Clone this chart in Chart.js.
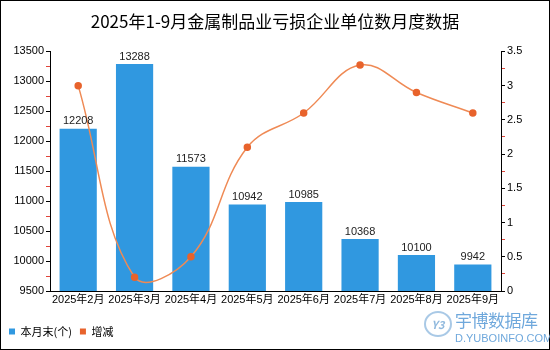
<!DOCTYPE html>
<html>
<head>
<meta charset="utf-8">
<script src="https://cdn.jsdelivr.net/npm/chart.js@4"></script>
<style>
html,body{margin:0;padding:0;background:#fff;}
#wrap{position:relative;width:550px;height:350px;box-sizing:border-box;border:1px solid #000;}
#c{position:absolute;left:0;top:0;}
#mark{position:absolute;left:423px;top:306px;width:124px;height:40px;font-family:"Noto Sans CJK SC","Noto Sans",sans-serif;color:#6fa8dc;}
#mark .logo{position:absolute;left:0;top:4px;width:28px;height:26px;border:2px solid #a9c9e6;border-radius:50%;box-sizing:border-box;font-size:11px;font-style:italic;font-weight:bold;text-align:center;line-height:22px;color:#8fb8dd;}
#mark .cn{position:absolute;left:31px;top:4px;font-size:17px;line-height:18px;letter-spacing:-0.5px;}
#mark .en{position:absolute;left:31px;top:25px;font-size:11px;font-family:"Liberation Sans",sans-serif;line-height:12px;}
</style>
</head>
<body>
<div id="wrap">
<canvas id="c" width="548" height="348"></canvas>
<div id="mark"><div class="logo">Y3</div><div class="cn">宇博数据库</div><div class="en">D.YUBOINFO.COM</div></div>
</div>
<script>
const months = ["2025年2月","2025年3月","2025年4月","2025年5月","2025年6月","2025年7月","2025年8月","2025年9月"];
const units = [12208,13288,11573,10942,10985,10368,10100,9942];
const change = [3.0,0.2,0.5,2.1,2.6,3.3,2.9,2.6];

const FONT = '"Liberation Sans","Noto Sans CJK SC",sans-serif';
Chart.defaults.font.family = FONT;
Chart.defaults.color = "#000";

// value labels above each bar
const barLabels = {
  id: "barLabels",
  afterDatasetsDraw(chart) {
    const ctx = chart.ctx;
    const meta = chart.getDatasetMeta(0);
    ctx.save();
    ctx.font = "11px " + FONT;
    ctx.fillStyle = "#222";
    ctx.textAlign = "center";
    ctx.textBaseline = "bottom";
    meta.data.forEach((bar, i) => {
      ctx.fillText(units[i], bar.x, bar.y - 2);
    });
    ctx.restore();
  }
};

function tickColor(c) {
  return c.tick && c.tick.label === "" ? "#e0453a" : "#000";
}

new Chart(document.getElementById("c"), {
  type: "bar",
  data: {
    labels: months,
    datasets: [{
      label: "本月末(个)",
      data: units,
      backgroundColor: "#3098e0",
      yAxisID: "y",
      barPercentage: 0.66,
      categoryPercentage: 1,
      order: 2
    }, {
      type: "line",
      label: "增减",
      data: change,
      yAxisID: "y1",
      borderColor: "#ef8a55",
      backgroundColor: "#e8632c",
      pointBackgroundColor: "#e8632c",
      pointBorderColor: "#e8632c",
      pointRadius: 3,
      borderWidth: 1.5,
      tension: 0.4,
      order: 1
    }]
  },
  options: {
    responsive: false,
    animation: false,
    layout: { padding: { left: 0, right: 0, top: 0, bottom: 2 } },
    plugins: {
      title: {
        display: true,
        text: "2025年1-9月金属制品业亏损企业单位数月度数据",
        font: { size: 17, weight: "normal", family: '"Noto Sans CJK SC",sans-serif' },
        color: "#000",
        padding: { top: 10, bottom: 20 }
      },
      legend: {
        position: "bottom",
        align: "start",
        labels: {
          boxWidth: 6,
          boxHeight: 6,
          font: { size: 11, family: '"Noto Sans CJK SC",sans-serif' },
          padding: 8,
          color: "#000",
          sort: (a, b) => a.datasetIndex - b.datasetIndex,
          generateLabels(chart) {
            return chart.data.datasets.map((ds, i) => ({
              text: ds.label,
              fillStyle: i === 0 ? ds.backgroundColor : ds.pointBackgroundColor,
              strokeStyle: "rgba(0,0,0,0)",
              lineWidth: 0,
              datasetIndex: i
            }));
          }
        }
      },
      tooltip: { enabled: false }
    },
    scales: {
      x: {
        grid: { display: false, drawTicks: false, tickLength: 0 },
        border: { color: "#000" },
        ticks: { font: { size: 11 }, color: "#000", maxRotation: 0, padding: 2 },
        afterFit(s) { s.height = 27; }
      },
      y: {
        position: "left",
        min: 9500,
        max: 13500,
        grid: { drawOnChartArea: false, tickLength: 4, color: tickColor },
        border: { color: "#000" },
        ticks: {
          stepSize: 250,
          autoSkip: false,
          font: { size: 11 },
          color: "#000",
          padding: 2,
          callback: v => v % 500 === 0 ? v : ""
        },
        afterFit(s) { s.width = 49; }
      },
      y1: {
        position: "right",
        min: 0,
        max: 3.5,
        grid: { drawOnChartArea: false, tickLength: 4, color: tickColor },
        border: { color: "#000" },
        ticks: {
          stepSize: 0.25,
          autoSkip: false,
          font: { size: 11 },
          color: "#000",
          padding: 2,
          callback: v => Math.abs(v * 2 - Math.round(v * 2)) < 1e-9 ? v : ""
        },
        afterFit(s) { s.width = 48; }
      }
    }
  },
  plugins: [barLabels]
});
</script>
</body>
</html>
